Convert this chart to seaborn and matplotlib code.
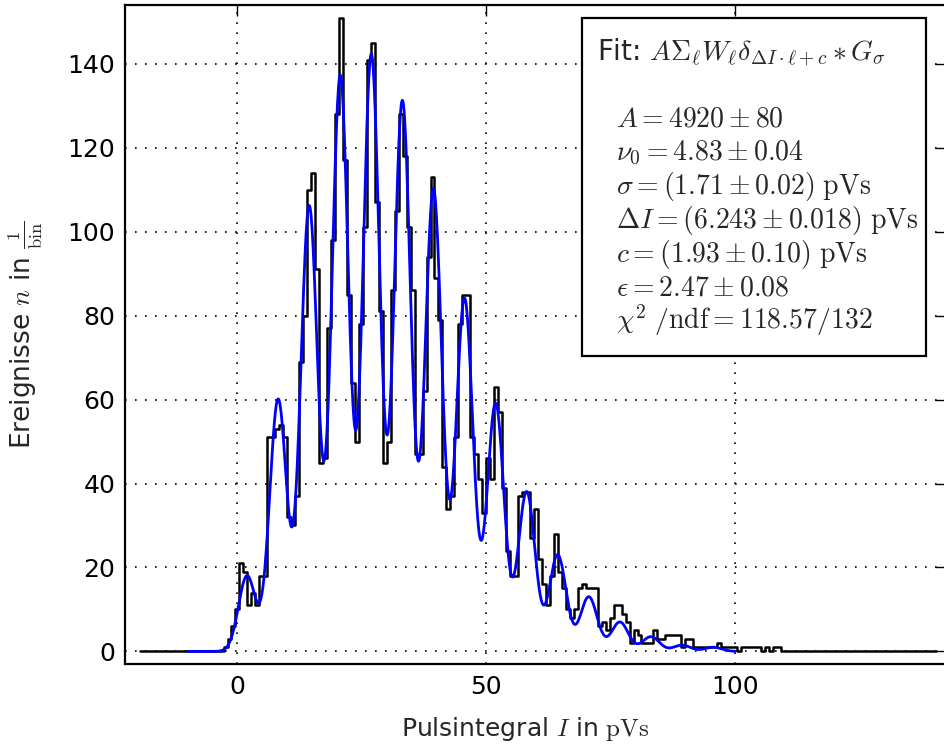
import numpy as np
import pandas as pd
import seaborn as sns
import matplotlib
matplotlib.use("Agg")
import matplotlib.pyplot as plt
from matplotlib.patches import Rectangle

# histogram of the pulse integral, 0.8 pVs bins; only the non-empty part is listed
hist_lo = -19.6
hist_hi = 140.4
bin_width = 0.8
first_edge = -2.8
counts = [1, 3, 6, 10, 21, 19, 11, 14, 11, 18, 18, 51, 51, 53, 54, 51, 32, 30, 37, 69,
          80, 110, 114, 91, 45, 46, 77, 98, 128, 151, 117, 85, 64, 50, 78, 101, 141, 145, 107, 81,
          45, 50, 86, 105, 128, 118, 101, 86, 47, 47, 62, 94, 113, 89, 79, 44, 34, 37, 51, 78,
          85, 85, 51, 47, 41, 33, 46, 41, 63, 57, 39, 24, 18, 18, 37, 38, 38, 27, 34, 22,
          16, 11, 18, 28, 19, 15, 10, 8, 10, 15, 16, 15, 15, 15, 6, 7, 5, 8, 11, 11,
          9, 7, 2, 5, 4, 2, 2, 2, 5, 3, 3, 4, 4, 4, 4, 1, 3, 3, 1, 1,
          1, 1, 1, 1, 2, 1, 1, 1, 1, 0, 1, 1, 1, 1, 1, 0, 1, 0, 1, 1]

# fit curve: height of each photoelectron peak l = 0, 1, 2, ...
peak_heights = [18, 60, 106, 137, 142, 131, 110, 84, 59, 38, 23, 13, 7, 3.5, 1.5, 1.0]
fit_c = 1.93
fit_dI = 6.243
fit_sigma = 1.71
fit_lo, fit_hi = -10, 100

fit_title = r"Fit: $A\Sigma_\ell W_\ell\delta_{\Delta I\cdot\ell+c}\ast G_\sigma$"
fit_params = [
    r"$A=4920\pm80$",
    r"$\nu_0=4.83\pm0.04$",
    r"$\sigma=(1.71\pm0.02)\ \mathrm{pVs}$",
    r"$\Delta I=(6.243\pm0.018)\ \mathrm{pVs}$",
    r"$c=(1.93\pm0.10)\ \mathrm{pVs}$",
    r"$\epsilon=2.47\pm0.08$",
    r"$\chi^2\ /\mathrm{ndf}=118.57/132$",
]

sns.set_style("white")
plt.rcParams.update({
    "font.family": ["DejaVu Sans"],
    "mathtext.fontset": "cm",
    "font.size": 18,
    "xtick.direction": "in",
    "ytick.direction": "in",
    "xtick.top": True,
    "ytick.right": True,
    "xtick.major.size": 8,
    "ytick.major.size": 8,
    "xtick.major.width": 1,
    "ytick.major.width": 1,
    "xtick.color": "black",
    "ytick.color": "black",
})

n_bins = int(round((hist_hi - hist_lo) / bin_width))
edges = hist_lo + bin_width * np.arange(n_bins + 1)
start = int(round((first_edge - hist_lo) / bin_width))
full = np.zeros(n_bins)
full[start:start + len(counts)] = counts
df_hist = pd.DataFrame({"I": edges[:-1] + bin_width / 2, "n": full})

xs = np.linspace(fit_lo, fit_hi, 1101)
fit = np.zeros_like(xs)
for l, h in enumerate(peak_heights):
    fit += h * np.exp(-0.5 * ((xs - (fit_c + l * fit_dI)) / fit_sigma) ** 2)
df_fit = pd.DataFrame({"I": xs, "n": fit})

fig = plt.figure(figsize=(9.44, 7.46), dpi=100)
ax = fig.add_axes([125 / 944, 1 - 664 / 746, 821 / 944, 659 / 746])

sns.histplot(data=df_hist, x="I", weights="n", binwidth=bin_width, binrange=(hist_lo, hist_hi),
             element="step", fill=False, color="black", linewidth=1.8, ax=ax)
sns.lineplot(data=df_fit, x="I", y="n", color="#0000ff", linewidth=2, estimator=None, ax=ax)

ax.set_xlim(-22.6, 142.4)
ax.set_ylim(-3.0, 154.0)
ax.set_xticks([0, 50, 100])
ax.set_yticks(np.arange(0, 141, 20))
ax.tick_params(axis="x", labelsize=18, pad=8)
ax.tick_params(axis="y", labelsize=18, pad=7)
ax.grid(True, color="black", linestyle=(0, (1, 5)), linewidth=1.2)
for s in ax.spines.values():
    s.set_linewidth(1.6)
    s.set_color("black")

ax.set_xlabel(r"Pulsintegral $I$ in $\mathrm{pVs}$", fontsize=18)
ax.set_ylabel(r"Ereignisse $n$ in $\frac{1}{\mathrm{bin}}$", fontsize=19)
ax.xaxis.set_label_coords(0.487, -0.078)
ax.yaxis.set_label_coords(-0.097, 0.5)

# fit box
ax.add_patch(Rectangle((0.5566, 0.4674), 0.419, 0.5129, transform=ax.transAxes,
                       facecolor="white", edgecolor="black", linewidth=1.6, zorder=5))
ax.text(0.575, 0.9150, fit_title, transform=ax.transAxes, fontsize=20,
        va="baseline", ha="left", zorder=6)
for i, line in enumerate(fit_params):
    ax.text(0.598, 0.815 - i * 0.0511, line, transform=ax.transAxes, fontsize=20,
            va="baseline", ha="left", zorder=6)

fig.savefig("out.png", dpi=100)
